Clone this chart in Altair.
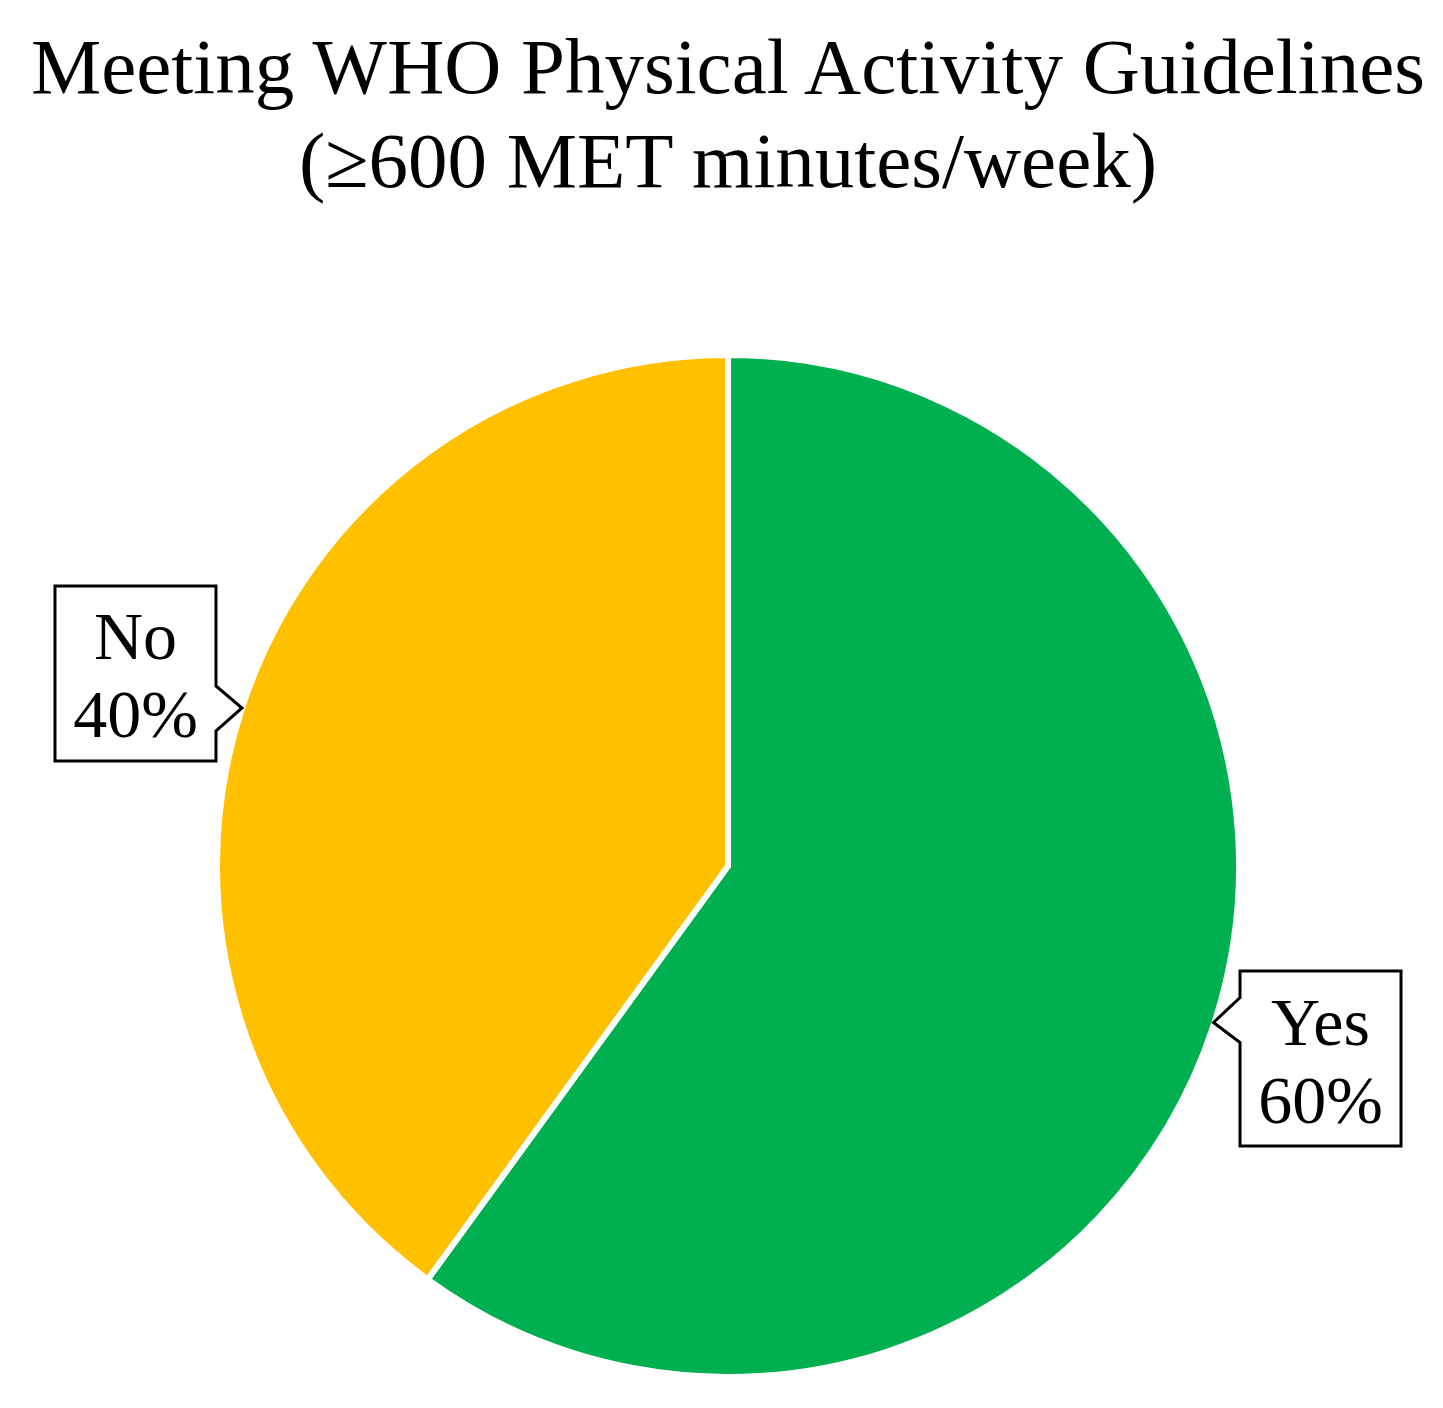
import altair as alt
import pandas as pd

# ---- data ----
TITLE_LINES = ["Meeting WHO Physical Activity Guidelines", "(\u2265600 MET minutes/week)"]
CATEGORIES = ["Yes", "No"]
VALUES = [60, 40]
ORDER = [0, 1]
COLORS = ["#00B050", "#FFC000"]

# ---- layout (pixels inside the plot area) ----
W, H = 1427, 1392
CX, CY = 720, 858          # pie centre
R_PIE = 511                # outer radius
R_BOX = 623                # radius at which call-out boxes are centred
FONT = "Liberation Serif"

# call-out box outlines (units of 100 px, symbol size 40000)
NO_PATH = "M-0.805,-0.875L0.805,-0.875L0.805,0.125L1.065,0.345L0.805,0.575L0.805,0.875L-0.805,0.875Z"
YES_PATH = "M-0.805,-0.875L0.805,-0.875L0.805,0.875L-0.805,0.875L-0.805,-0.16L-1.07,-0.36L-0.805,-0.61Z"

df = pd.DataFrame({"category": CATEGORIES, "value": VALUES, "order": ORDER})

base = alt.Chart(df)

pie = base.mark_arc(outerRadius=R_PIE, stroke="white", strokeWidth=6).encode(
    theta=alt.Theta("value:Q", stack=True),
    order=alt.Order("order:Q"),
    color=alt.Color("category:N", scale=alt.Scale(domain=CATEGORIES, range=COLORS), legend=None),
    x=alt.value(CX),
    y=alt.value(CY),
)

callout_base = base.transform_window(
    cum="sum(value)", sort=[alt.SortField("order")], frame=[None, 0]
).transform_joinaggregate(
    total="sum(value)"
).transform_calculate(
    mid="(datum.cum - datum.value / 2) / datum.total",
).transform_calculate(
    px=f"{CX} + {R_BOX} * sin(2 * PI * datum.mid)",
    py=f"{CY} - {R_BOX} * cos(2 * PI * datum.mid)",
    pct="format(100 * datum.value / datum.total, 'd') + '%'",
)

xy = dict(x=alt.X("px:Q", scale=None, axis=None), y=alt.Y("py:Q", scale=None, axis=None))

boxes = callout_base.mark_point(
    filled=True, fill="white", stroke="black", strokeWidth=3, size=40000, opacity=1
).encode(
    shape=alt.Shape("category:N", scale=alt.Scale(domain=CATEGORIES, range=[YES_PATH, NO_PATH]), legend=None),
    **xy,
)

label1 = callout_base.mark_text(
    font=FONT, fontSize=68, baseline="alphabetic", align="center", dy=-14, color="black"
).encode(text="category:N", **xy)

label2 = callout_base.mark_text(
    font=FONT, fontSize=68, baseline="alphabetic", align="center", dy=64, color="black"
).encode(text="pct:N", **xy)

title_df = pd.DataFrame({"line": TITLE_LINES})
t1 = alt.Chart(title_df.iloc[[0]]).mark_text(
    font=FONT, fontSize=79, baseline="alphabetic", align="center", color="black"
).encode(text="line:N", x=alt.value(720), y=alt.value(85))
t2 = alt.Chart(title_df.iloc[[1]]).mark_text(
    font=FONT, fontSize=79, baseline="alphabetic", align="center", color="black"
).encode(text="line:N", x=alt.value(720), y=alt.value(179))

chart = alt.layer(pie, boxes, label1, label2, t1, t2).properties(
    width=W, height=H, padding=0, background="white"
).configure_view(strokeWidth=0)

chart.save("out.html", embed_options={"renderer": "svg", "actions": False})
